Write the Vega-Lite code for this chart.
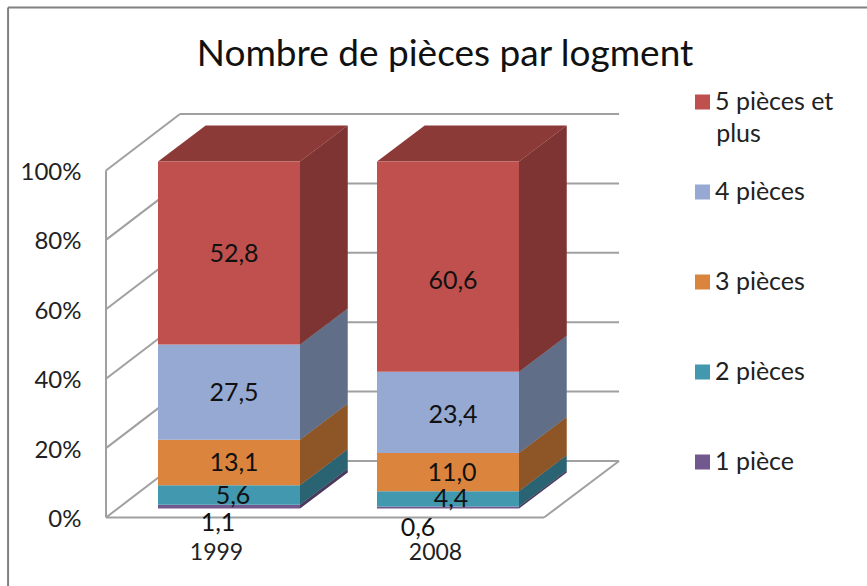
{
"$schema":"https://vega.github.io/schema/vega-lite/v6.json",
"width":760,"height":347,
"autosize":{"type":"none"},
"padding":{"left":107,"top":170.5,"right":0,"bottom":68.5},
"background":"white",
"view":{"stroke":null},
"title":{"text":"Nombre de pièces par logment","font":"Lato","fontSize":37,"fontWeight":"normal","color":"#111111","anchor":"middle","frame":"group","dx":-42,"offset":-67},
"config":{"font":"Lato",
 "axisX":{"format":"d","title":null,"domain":false,"ticks":false,"grid":false,"labelOffset":-13,"labelPadding":24,"labelFont":"Lato","labelFontSize":23,"labelColor":"#222222","labelFlush":false},
 "axisY":{"format":".0%","title":null,"domain":false,"ticks":false,"grid":false,"labelPadding":26,"labelOffset":2,"labelFont":"Lato","labelFontSize":24,"labelColor":"#222222"}},
"datasets":{
"values":[
{"year":1999,"piece":"1 pièce","value":1.1},
{"year":1999,"piece":"2 pièces","value":5.6},
{"year":1999,"piece":"3 pièces","value":13.1},
{"year":1999,"piece":"4 pièces","value":27.5},
{"year":1999,"piece":"5 pièces et plus","value":52.8},
{"year":2008,"piece":"1 pièce","value":0.6},
{"year":2008,"piece":"2 pièces","value":4.4},
{"year":2008,"piece":"3 pièces","value":11.0},
{"year":2008,"piece":"4 pièces","value":23.4},
{"year":2008,"piece":"5 pièces et plus","value":60.6}
],
"labels":[
{"x":1999.205,"y":0.7594,"label":"52,8"},
{"x":1999.205,"y":0.3588,"label":"27,5"},
{"x":1999.205,"y":0.1571,"label":"13,1"},
{"x":1999.164,"y":0.062,"label":"5,6"},
{"x":1998.548,"y":-0.0159,"label":"1,1"},
{"x":2008.207,"y":0.6816,"label":"60,6"},
{"x":2008.207,"y":0.2954,"label":"23,4"},
{"x":2008.166,"y":0.1282,"label":"11,0"},
{"x":2008.124,"y":0.0533,"label":"4,4"},
{"x":2006.768,"y":-0.0303,"label":"0,6"}
],
"legendWrap":[{"x":2019.02,"y":1.105,"label":"plus"}],
"sides":[
{"year":1999,"piece":"1 pièce","x":2001.918,"lo":0.026,"hi":0.037},
{"year":1999,"piece":"1 pièce","x":2003.878,"lo":0.1297,"hi":0.1407},
{"year":1999,"piece":"2 pièces","x":2001.918,"lo":0.037,"hi":0.093},
{"year":1999,"piece":"2 pièces","x":2003.878,"lo":0.1407,"hi":0.1967},
{"year":1999,"piece":"3 pièces","x":2001.918,"lo":0.093,"hi":0.224},
{"year":1999,"piece":"3 pièces","x":2003.878,"lo":0.1967,"hi":0.3277},
{"year":1999,"piece":"4 pièces","x":2001.918,"lo":0.224,"hi":0.4985},
{"year":1999,"piece":"4 pièces","x":2003.878,"lo":0.3277,"hi":0.6022},
{"year":1999,"piece":"5 pièces et plus","x":2001.918,"lo":0.4985,"hi":1.026},
{"year":1999,"piece":"5 pièces et plus","x":2003.878,"lo":0.6022,"hi":1.1297},
{"year":2008,"piece":"1 pièce","x":2010.918,"lo":0.026,"hi":0.032},
{"year":2008,"piece":"1 pièce","x":2012.878,"lo":0.1297,"hi":0.1357},
{"year":2008,"piece":"2 pièces","x":2010.918,"lo":0.032,"hi":0.076},
{"year":2008,"piece":"2 pièces","x":2012.878,"lo":0.1357,"hi":0.1797},
{"year":2008,"piece":"3 pièces","x":2010.918,"lo":0.076,"hi":0.186},
{"year":2008,"piece":"3 pièces","x":2012.878,"lo":0.1797,"hi":0.2897},
{"year":2008,"piece":"4 pièces","x":2010.918,"lo":0.186,"hi":0.42},
{"year":2008,"piece":"4 pièces","x":2012.878,"lo":0.2897,"hi":0.5237},
{"year":2008,"piece":"5 pièces et plus","x":2010.918,"lo":0.42,"hi":1.026},
{"year":2008,"piece":"5 pièces et plus","x":2012.878,"lo":0.5237,"hi":1.1297}
],
"tops":[
{"year":1999,"y":1.026,"xa":1996.082,"xb":2001.918},
{"year":1999,"y":1.1297,"xa":1998.042,"xb":2003.878},
{"year":2008,"y":1.026,"xa":2005.082,"xb":2010.918},
{"year":2008,"y":1.1297,"xa":2007.042,"xb":2012.878}
],
"grid":[
{"x":1993.945,"x2":1996.986,"y":0,"y2":0.1628},
{"x":1993.945,"x2":1996.986,"y":0.2,"y2":0.3628},
{"x":1993.945,"x2":1996.986,"y":0.4,"y2":0.5628},
{"x":1993.945,"x2":1996.986,"y":0.6,"y2":0.7628},
{"x":1993.945,"x2":1996.986,"y":0.8,"y2":0.9628},
{"x":1993.945,"x2":1996.986,"y":1,"y2":1.1628},
{"x":1996.986,"x2":2015.03,"y":0.1628,"y2":0.1628},
{"x":1996.986,"x2":2015.03,"y":0.3628,"y2":0.3628},
{"x":1996.986,"x2":2015.03,"y":0.5628,"y2":0.5628},
{"x":1996.986,"x2":2015.03,"y":0.7628,"y2":0.7628},
{"x":1996.986,"x2":2015.03,"y":0.9628,"y2":0.9628},
{"x":1996.986,"x2":2015.03,"y":1.1628,"y2":1.1628},
{"x":1993.945,"x2":1993.945,"y":0,"y2":1},
{"x":1993.945,"x2":2011.947,"y":0,"y2":0},
{"x":2011.947,"x2":2015.03,"y":0,"y2":0.1628}
],
"frame":[
{"x":1989.92,"x2":1989.92,"y":1.4697,"y2":-0.2},
{"x":1989.92,"x2":2025.3,"y":1.4697,"y2":1.4697}
]
},
"layer":[
{"data":{"name":"frame"},"mark":{"type":"rule","color":"#808080","strokeWidth":2},
 "encoding":{
  "x":{"field":"x","type":"quantitative","scale":{"domain":[1993.986,2025.22],"nice":false,"zero":false,"padding":0},"axis":{"values":[1999,2008]}},
  "x2":{"field":"x2"},
  "y":{"field":"y","type":"quantitative","scale":{"domain":[0,1],"nice":false,"zero":false},"axis":{"values":[0,0.2,0.4,0.6,0.8,1]}},
  "y2":{"field":"y2"}
 }},
{"data":{"name":"grid"},"mark":{"type":"rule","color":"#a0a0a0","strokeWidth":2},
 "encoding":{"x":{"field":"x","type":"quantitative","axis":{"values":[1999,2008]}},"x2":{"field":"x2"},"y":{"field":"y","type":"quantitative","axis":{"values":[0,0.2,0.4,0.6,0.8,1]}},"y2":{"field":"y2"}}},
{"data":{"name":"tops"},"mark":{"type":"area","orient":"horizontal","color":"#8C3A38"},
 "encoding":{"y":{"field":"y","type":"quantitative","axis":{"values":[0,0.2,0.4,0.6,0.8,1]}},"x":{"field":"xa","type":"quantitative","axis":{"values":[1999,2008]}},"x2":{"field":"xb"},"detail":{"field":"year"}}},
{"data":{"name":"values"},
 "transform":[{"stack":"value","groupby":["year"],"sort":[{"field":"piece","order":"ascending"}],"offset":"normalize","as":["y0","y1"]}],
 "mark":{"type":"bar","width":142,"yOffset":-9,"y2Offset":-9},
 "encoding":{"x":{"field":"year","type":"quantitative","axis":{"values":[1999,2008]}},"y":{"field":"y0","type":"quantitative","axis":{"values":[0,0.2,0.4,0.6,0.8,1]}},"y2":{"field":"y1"},
  "color":{"field":"piece","type":"nominal","scale":{"domain":["5 pièces et plus","4 pièces","3 pièces","2 pièces","1 pièce"],"range":["#C0504D","#95A9D2","#DB843D","#4198AF","#71588F"]},
   "legend":{"orient":"none","legendX":583,"legendY":-81,"title":null,"padding":0,"symbolType":"square","symbolSize":225,"symbolStrokeWidth":0,"labelFont":"Lato","labelFontSize":25,"labelColor":"#222222","labelOffset":0,"rowPadding":64,"labelLimit":200,"labelExpr":"datum.label == '5 pièces et plus' ? '5 pièces et' : datum.label"}}}},
{"data":{"name":"sides"},"mark":{"type":"area","interpolate":"linear"},
 "encoding":{"x":{"field":"x","type":"quantitative","axis":{"values":[1999,2008]}},"y":{"field":"lo","type":"quantitative","axis":{"values":[0,0.2,0.4,0.6,0.8,1]}},"y2":{"field":"hi"},
  "detail":{"field":"year"},
  "color":{"field":"piece","type":"nominal"}}},
{"data":{"name":"sides"},"mark":{"type":"area","interpolate":"linear","color":"#000000","opacity":0.35},
 "encoding":{"x":{"field":"x","type":"quantitative","axis":{"values":[1999,2008]}},"y":{"field":"lo","type":"quantitative","axis":{"values":[0,0.2,0.4,0.6,0.8,1]}},"y2":{"field":"hi"},
  "detail":[{"field":"year"},{"field":"piece"}]}},
{"data":{"name":"labels"},"mark":{"type":"text","font":"Lato","fontSize":25,"color":"#111111","align":"center","baseline":"middle"},
 "encoding":{"x":{"field":"x","type":"quantitative","axis":{"values":[1999,2008]}},"y":{"field":"y","type":"quantitative","axis":{"values":[0,0.2,0.4,0.6,0.8,1]}},"text":{"field":"label"}}},
{"data":{"name":"legendWrap"},"mark":{"type":"text","font":"Lato","fontSize":25,"color":"#222222","align":"left","baseline":"middle"},
 "encoding":{"x":{"field":"x","type":"quantitative","axis":{"values":[1999,2008]}},"y":{"field":"y","type":"quantitative","axis":{"values":[0,0.2,0.4,0.6,0.8,1]}},"text":{"field":"label"}}}
]
}
